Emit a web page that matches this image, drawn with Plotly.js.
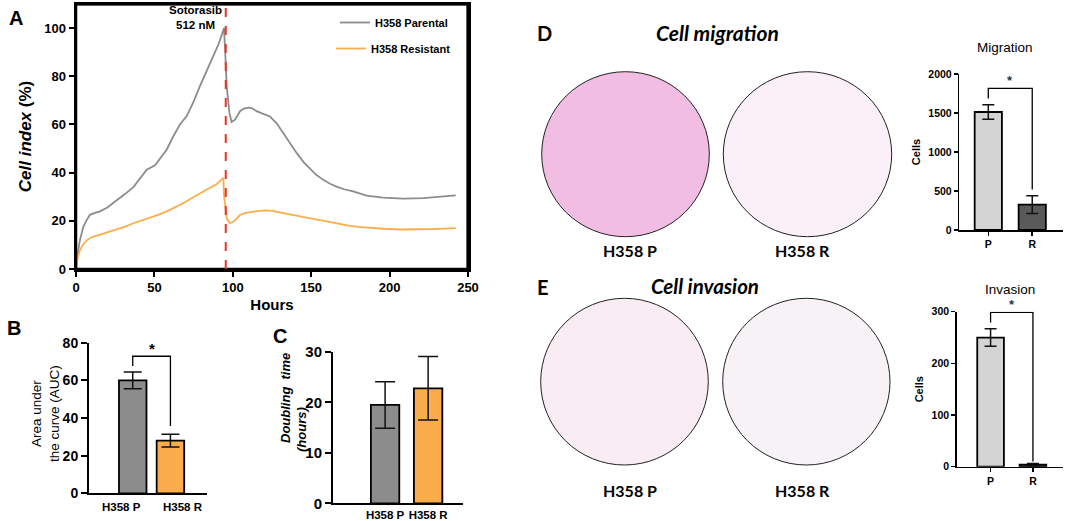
<!DOCTYPE html>
<html>
<head>
<meta charset="utf-8">
<script src="https://cdn.plot.ly/plotly-3.0.1.min.js"></script>
<style>html,body{margin:0;padding:0;background:#fff}#chart{width:1065px;height:521px}</style>
</head>
<body>
<div id="chart"></div>
<script>
// ---------- Panel A: real-time cell index ----------
const hoursParental = [0,1,2.5,4.7,7,8.9,12,15.3,20,26,31,36.6,41,45.1,50.4,54,57.8,62,66.3,70.6,75,79.1,83,87.6,91,94.4,95.3,96.1,97.8,99.2,101.4,104.6,107,109.9,112,115.2,119,123.7,128,132.2,136,140.7,145,149.2,153,157.7,162,166.2,171,176.8,185.3,195.9,208.7,221.4,232,242.2];
const indexParental = [0,6,12,17.6,20.5,22.5,23.3,23.9,25.5,28.4,31,34,37.5,41.2,43,46,49.5,55,60,63.5,69.5,76,82,88.5,93.5,100,88,76,65,61,62,65.5,66.6,67,66.8,65.5,64.5,63.3,60.5,56.5,52.5,48.2,44.5,41.5,39.2,37,35.4,34.2,33.1,32.2,30.5,29.6,29.2,29.4,29.9,30.6];
const hoursResistant = [0,1,2.6,4.5,7,10,15.3,20,26,31,36.6,42,47.2,52,57.8,63,68.4,74,79.1,84,89.7,94,94.4,96.2,98.2,100.3,102.5,104.6,108,113.1,117,121.6,126,132.2,137,142.8,148,153.5,159,164.1,169,174.7,180,185.3,195.9,206.6,217.2,227.8,235,242.2];
const indexResistant = [0,4.5,8,10.2,12,13.2,14.3,15.2,16.3,17.5,19,20.1,21.2,22.4,23.9,25.5,27.3,29.5,31.5,33.2,35.2,37.8,30.5,20.8,19,19.6,21,22.4,23.3,23.9,24.1,24.3,24,23.2,22.6,21.8,21.1,20.4,19.7,19,18.4,17.9,17.5,17.2,16.7,16.4,16.4,16.6,16.8,17];
const treatmentHour = 95.5;
const hoursRange = [0, 250];
const indexRange = [0, 110];

// ---------- Panels B & C ----------
const lineCats = ["H358 P", "H358 R"];
const aucValues = [60, 28];
const aucErrors = [4.4, 3.4];
const doublingValues = [19.5, 22.8];
const doublingErrors = [4.6, 6.3];

// ---------- Panels D & E ----------
const assayCats = ["P", "R"];
const migrationValues = [1513, 325];
const migrationErrors = [92, 113];
const invasionValues = [250, 4];
const invasionErrors = [17, 2];

const GRAY = "#8c8c8c", ORANGE = "#fbad4b", LIGHT = "#d4d4d4", DARK = "#5a5a5a";
const F = "Liberation Sans, Arial, sans-serif";
const C = "Lato, Open Sans, sans-serif";
const W = 1065, H = 521;
const px = v => v / W;
const py = v => 1 - v / H;

// axis domains (paper fractions)
const dom = {
  x: [px(76), px(468)], y: [py(269), py(4)],
  x2: [px(89), px(207)], y2: [py(493.3), py(342.7)],
  x3: [px(333), px(463)], y3: [py(503.3), py(352)],
  x4: [px(959.3), px(1063)], y4: [py(230), py(74)],
  x5: [px(956.7), px(1063)], y5: [py(466.7), py(311.7)]
};
const yToPaper = (ya, v, range) => dom[ya][0] + (v / range) * (dom[ya][1] - dom[ya][0]);

function bar(xa, ya, cats, vals, errs, colors, width, capw) {
  return {
    type: "bar", x: cats, y: vals, xaxis: xa, yaxis: ya, width: width,
    marker: {color: colors, line: {color: "#000", width: 1.8}},
    error_y: {type: "data", array: errs, visible: true, color: "#111", thickness: 1.5, width: capw},
    showlegend: false
  };
}
function bracket(xa, ya, cats, vals, errs, range, rightGap) {
  const top0 = vals[0] + errs[0], top1 = vals[1] + errs[1];
  const yTop = Math.max(top0, top1) + 0.105 * range;
  return {
    trace: {type: "scatter", mode: "lines", xaxis: xa, yaxis: ya,
      x: [cats[0], cats[0], cats[1], cats[1]],
      y: [top0 + 0.04 * range, yTop, yTop, top1 + rightGap * range],
      line: {color: "#000", width: 1.3}, showlegend: false, cliponaxis: false},
    star: yToPaper(ya, yTop + 0.05 * range, range)
  };
}

const bB = bracket("x2", "y2", lineCats, aucValues, aucErrors, 80, 0.055);
const bD = bracket("x4", "y4", assayCats, migrationValues, migrationErrors, 2000, 0.04);
const bE = bracket("x5", "y5", assayCats, invasionValues, invasionErrors, 300, 0.013);

const data = [
  {type: "scatter", mode: "lines", name: "H358 Parental", x: hoursParental, y: indexParental,
   line: {color: GRAY, width: 1.8}, legend: "legend"},
  {type: "scatter", mode: "lines", name: "H358 Resistant", x: hoursResistant, y: indexResistant,
   line: {color: ORANGE, width: 1.8}, legend: "legend2"},
  // top & right edges of the panel A box (from the axis ranges)
  {type: "scatter", mode: "lines", x: [hoursRange[0], hoursRange[1], hoursRange[1]],
   y: [indexRange[1], indexRange[1], indexRange[0]],
   line: {color: "black", width: 3}, cliponaxis: false, showlegend: false},
  bar("x2", "y2", lineCats, aucValues, aucErrors, [GRAY, ORANGE], 0.73, 9),
  bB.trace,
  bar("x3", "y3", lineCats, doublingValues, doublingErrors, [GRAY, ORANGE], 0.66, 10),
  bar("x4", "y4", assayCats, migrationValues, migrationErrors, [LIGHT, DARK], 0.62, 6),
  bD.trace,
  bar("x5", "y5", assayCats, invasionValues, invasionErrors, [LIGHT, DARK], 0.63, 6),
  bE.trace
];

const axBase = {showline: true, linecolor: "#000", ticks: "outside", tickcolor: "#000",
  showgrid: false, zeroline: false};
const bold = (s) => ({family: F, size: s, color: "#000", weight: "bold"});

function note(o) {
  return Object.assign({xref: "paper", yref: "paper", showarrow: false, xanchor: "center", yanchor: "middle"}, o);
}

const layout = {
  width: W, height: H, margin: {l: 0, r: 0, t: 0, b: 0},
  font: {family: F, color: "#000"},
  bargap: 0,
  legend: {x: px(335), y: py(8), xanchor: "left", yanchor: "top", bgcolor: "rgba(0,0,0,0)",
    font: bold(11), itemwidth: 30},
  legend2: {x: px(331), y: py(34), xanchor: "left", yanchor: "top", bgcolor: "rgba(0,0,0,0)",
    font: bold(11), itemwidth: 30},
  // Panel A
  xaxis: Object.assign({}, axBase, {domain: dom.x, range: hoursRange, mirror: true,
    tickvals: [0, 50, 100, 150, 200, 250], linewidth: 2.5, ticklen: 5, tickwidth: 2,
    tickfont: bold(13), title: {text: "Hours", font: bold(15), standoff: 6}}),
  yaxis: Object.assign({}, axBase, {domain: dom.y, range: indexRange, mirror: true,
    tickvals: [0, 20, 40, 60, 80, 100], linewidth: 2.5, ticklen: 5, tickwidth: 2,
    tickfont: bold(13),
    title: {text: "<i>Cell index</i> (%)", font: {family: F, size: 17, weight: "bold"}, standoff: 8}}),
  // Panel B
  xaxis2: Object.assign({}, axBase, {domain: dom.x2, anchor: "y2", type: "category",
    range: [-1.16, 1.97], linewidth: 2, ticks: "", showticklabels: false}),
  yaxis2: Object.assign({}, axBase, {domain: dom.y2, anchor: "x2", range: [0, 80],
    tickvals: [0, 20, 40, 60, 80], linewidth: 2, ticklen: 6, tickwidth: 2, tickfont: bold(14)}),
  // Panel C
  xaxis3: Object.assign({}, axBase, {domain: dom.x3, anchor: "y3", type: "category",
    range: [-1.21, 1.81], linewidth: 2, ticks: "", tickangle: 0, tickfont: bold(11.5)}),
  yaxis3: Object.assign({}, axBase, {domain: dom.y3, anchor: "x3", range: [0, 30],
    tickvals: [0, 10, 20, 30], linewidth: 2, ticklen: 6, tickwidth: 2, tickfont: bold(15)}),
  // Panel D chart
  xaxis4: Object.assign({}, axBase, {domain: dom.x4, anchor: "y4", type: "category",
    range: [-0.66, 1.70], linewidth: 1.5, ticklen: 4, tickwidth: 1.5, tickangle: 0, tickfont: bold(10.5)}),
  yaxis4: Object.assign({}, axBase, {domain: dom.y4, anchor: "x4", range: [0, 2000],
    tickvals: [0, 500, 1000, 1500, 2000], linewidth: 1.5, ticklen: 4, tickwidth: 1.5, tickfont: bold(10.5),
    title: {text: "Cells", font: bold(11), standoff: 5}}),
  // Panel E chart
  xaxis5: Object.assign({}, axBase, {domain: dom.x5, anchor: "y5", type: "category",
    range: [-0.8, 1.71], linewidth: 1.5, ticklen: 4, tickwidth: 1.5, tickangle: 0, tickfont: bold(10.5)}),
  yaxis5: Object.assign({}, axBase, {domain: dom.y5, anchor: "x5", range: [0, 300],
    tickvals: [0, 100, 200, 300], linewidth: 1.5, ticklen: 4, tickwidth: 1.5, tickfont: bold(10.5),
    title: {text: "Cells", font: bold(11), standoff: 5}}),
  shapes: [
    {type: "rect", xref: "paper", yref: "paper", x0: dom.x[0], x1: dom.x[1], y0: dom.y[0], y1: dom.y[1],
     line: {color: "black", width: 2.5}},
    {type: "line", xref: "x", yref: "y", x0: treatmentHour, x1: treatmentHour, y0: 0, y1: 110,
     line: {color: "#ee3322", width: 2, dash: "dash"}},
    // microscopy wells
    {type: "circle", xref: "paper", yref: "paper", x0: px(541.7), x1: px(709.3), y0: py(236.7), y1: py(71.7),
     fillcolor: "#f2bde3", line: {color: "#222", width: 1}},
    {type: "circle", xref: "paper", yref: "paper", x0: px(723.3), x1: px(891.7), y0: py(236.7), y1: py(71.7),
     fillcolor: "#fbf0f8", line: {color: "#222", width: 1}},
    {type: "circle", xref: "paper", yref: "paper", x0: px(540.7), x1: px(708.3), y0: py(465), y1: py(298.3),
     fillcolor: "#f9ecf2", line: {color: "#222", width: 1}},
    {type: "circle", xref: "paper", yref: "paper", x0: px(722.7), x1: px(890), y0: py(465), y1: py(298.3),
     fillcolor: "#f7f2f5", line: {color: "#222", width: 1}}
  ],
  annotations: [
    note({text: "A", x: px(16), y: py(18), font: {family: F, size: 20, weight: "bold"}}),
    note({text: "B", x: px(14), y: py(328), font: {family: F, size: 20, weight: "bold"}}),
    note({text: "C", x: px(280), y: py(336), font: {family: F, size: 20, weight: "bold"}}),
    note({text: "D", x: px(544), y: py(33), font: {family: C, size: 20, weight: "bold"}}),
    note({text: "E", x: px(543), y: py(287), font: {family: C, size: 20, weight: "bold"}}),
    note({text: "Sotorasib<br>512 nM", xref: "x", yref: "y", x: 76.5, y: 104.3,
     font: {family: F, size: 11.5, weight: "bold"}}),
    note({text: lineCats[0], xref: "x2", x: -0.285, y: py(506.5), font: bold(11.5)}),
    note({text: lineCats[1], xref: "x2", x: 1.32, y: py(506.5), font: bold(11.5)}),
    note({text: "Area under<br>the curve (AUC)", x: px(45), y: py(414), textangle: -90,
     font: {family: F, size: 13.5}}),
    note({text: "<i>Doubling  time</i>", x: px(285), y: py(398), textangle: -90,
     font: {family: F, size: 13, weight: "bold"}}),
    note({text: "<i>(hours)</i>", x: px(301), y: py(430), textangle: -90,
     font: {family: F, size: 13, weight: "bold"}}),
    note({text: "*", xref: "x2", x: 0.5, y: bB.star, font: bold(15)}),
    note({text: "*", xref: "x4", x: 0.5, y: bD.star, font: {family: F, size: 13, weight: "bold", color: "#1d3557"}}),
    note({text: "*", xref: "x5", x: 0.5, y: bE.star, font: {family: F, size: 13, weight: "bold", color: "#1d3557"}}),
    note({text: "<i>Cell migration</i>", x: px(717), y: py(33), font: {family: C, size: 21, weight: "bold"}}),
    note({text: "<i>Cell invasion</i>", x: px(705), y: py(286), font: {family: C, size: 20.5, weight: "bold"}}),
    note({text: "H358 P", x: px(630), y: py(250), font: {family: C, size: 16, weight: "bold"}}),
    note({text: "H358 R", x: px(802), y: py(250), font: {family: C, size: 16, weight: "bold"}}),
    note({text: "H358 P", x: px(630), y: py(490), font: {family: C, size: 16, weight: "bold"}}),
    note({text: "H358 R", x: px(802), y: py(490), font: {family: C, size: 16, weight: "bold"}}),
    note({text: "Migration", x: px(1005), y: py(47), font: {family: F, size: 13.5}}),
    note({text: "Invasion", x: px(1010), y: py(289), font: {family: F, size: 13.5}})
  ]
};

Plotly.newPlot("chart", data, layout, {staticPlot: true, displayModeBar: false});
</script>
</body>
</html>
